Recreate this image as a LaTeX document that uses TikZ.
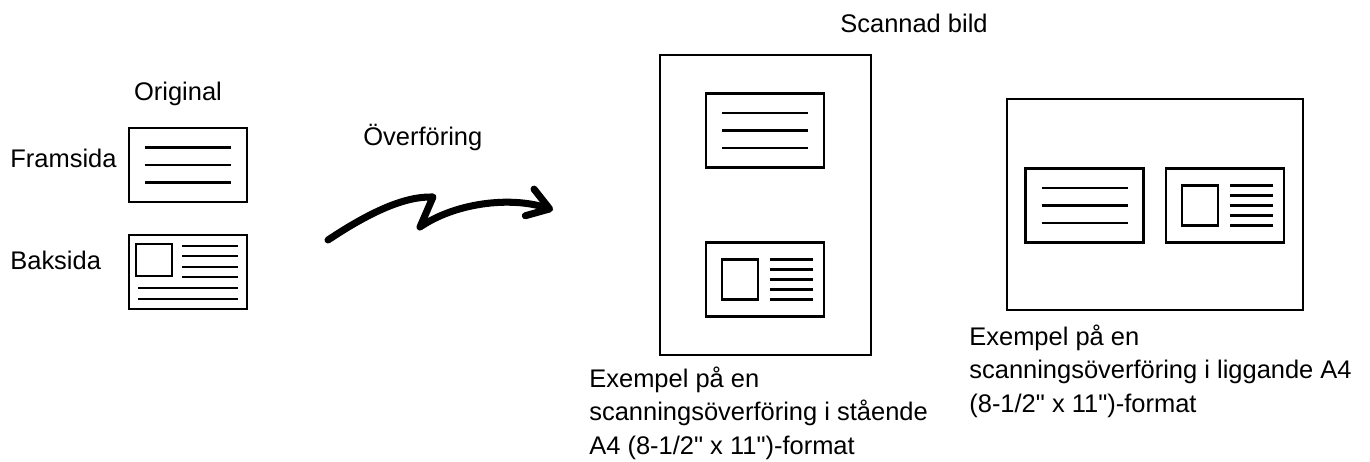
\documentclass[tikz,border=0pt]{standalone}
\usepackage{fontspec}
\setmainfont{Liberation Sans}
\usetikzlibrary{arrows.meta}

\tikzset{
  card/.style={draw, line width=1.6pt, minimum width=2.36cm, minimum height=1.48cm, inner sep=0pt},
  page/.style={draw, line width=1.4pt, inner sep=0pt},
  txtline/.style={line width=1.3pt},
  lbl/.style={font=\fontsize{14.5}{18.8}\selectfont, inner sep=0pt},
  sendarrow/.style={line width=4pt, line cap=round, line join=round,
    -{Straight Barb[length=0.42cm, width=0.56cm, line cap=round, line join=round]}},
}

\begin{document}
\begin{tikzpicture}[x=0.02cm, y=-0.02cm]
 \useasboundingbox (0,0) rectangle (1370,461);

 % card with three text lines {(x,y)}{name}
 \newcommand{\FrontCard}[2]{
  \begin{scope}[shift={#1}]
   \node [card] (#2) at (0,0) {};
   \foreach \ly in {-17.5,0,17.5}
    \draw [txtline] (-43,\ly) -- (43,\ly);
  \end{scope}
  }

 % card with picture and five short lines {(x,y)}{name}
 \newcommand{\BackCard}[2]{
  \begin{scope}[shift={#1}]
   \node [card] (#2) at (0,0) {};
   \draw [line width=1.6pt] (-43,-20) rectangle (-7,20);
   \foreach \ly in {-20,-10,0,10,20}
    \draw [txtline] (5,\ly) -- (48,\ly);
  \end{scope}
  }

 % the original sheet, both sides
 \node [lbl, anchor=base] (original) at (178,100) {Original};
 \FrontCard{(188,165)}{orig front}
 \begin{scope}[shift={(188,272)}]
  \node [card] (orig back) at (0,0) {};
  \draw [line width=1.6pt] (-52,-28) rectangle (-16,4);
  \foreach \ly in {-26,-16,-5,5}
   \draw [txtline] (-6,\ly) -- (50,\ly);
  \foreach \ly in {16,27}
   \draw [txtline] (-50,\ly) -- (50,\ly);
 \end{scope}
 \node [lbl, anchor=base west] (front label) at (10,167) {Framsida};
 \node [lbl, anchor=base west] (back label) at (10,269) {Baksida};

 % transfer arrow
 \node [lbl, anchor=base west] (transfer) at (363,145) {Överföring};
 \coordinate (arrow start) at (328,240);
 \coordinate (arrow end) at (553,210);
 \draw [sendarrow] (arrow start) .. controls (370,212) and (405,196) .. (433,197)
   -- (420,227) .. controls (455,203) and (510,196) .. (arrow end);

 % scanned pages
 \node [lbl, anchor=base west] (scanned) at (840,32) {Scannad bild};
 \node [page, minimum width=4.22cm, minimum height=6cm] (portrait) at (765.5,205) {};
 \FrontCard{(765,130.5)}{portrait front}
 \BackCard{(765,279.5)}{portrait back}
 \node [page, minimum width=5.92cm, minimum height=4.22cm] (landscape) at (1155,204.5) {};
 \FrontCard{(1084.5,205.5)}{landscape front}
 \BackCard{(1225,205.5)}{landscape back}

 % base anchor sits on the last line
 \node [lbl, anchor=base west, align=left] (portrait text) at (589,454)
   {Exempel på en\\scanningsöverföring i stående\\A4 (8-1/2\textquotedbl{} x 11\textquotedbl)-format};
 \node [lbl, anchor=base west, align=left] (landscape text) at (969,412)
   {Exempel på en\\scanningsöverföring i liggande A4\\(8-1/2\textquotedbl{} x 11\textquotedbl)-format};
\end{tikzpicture}
\end{document}
